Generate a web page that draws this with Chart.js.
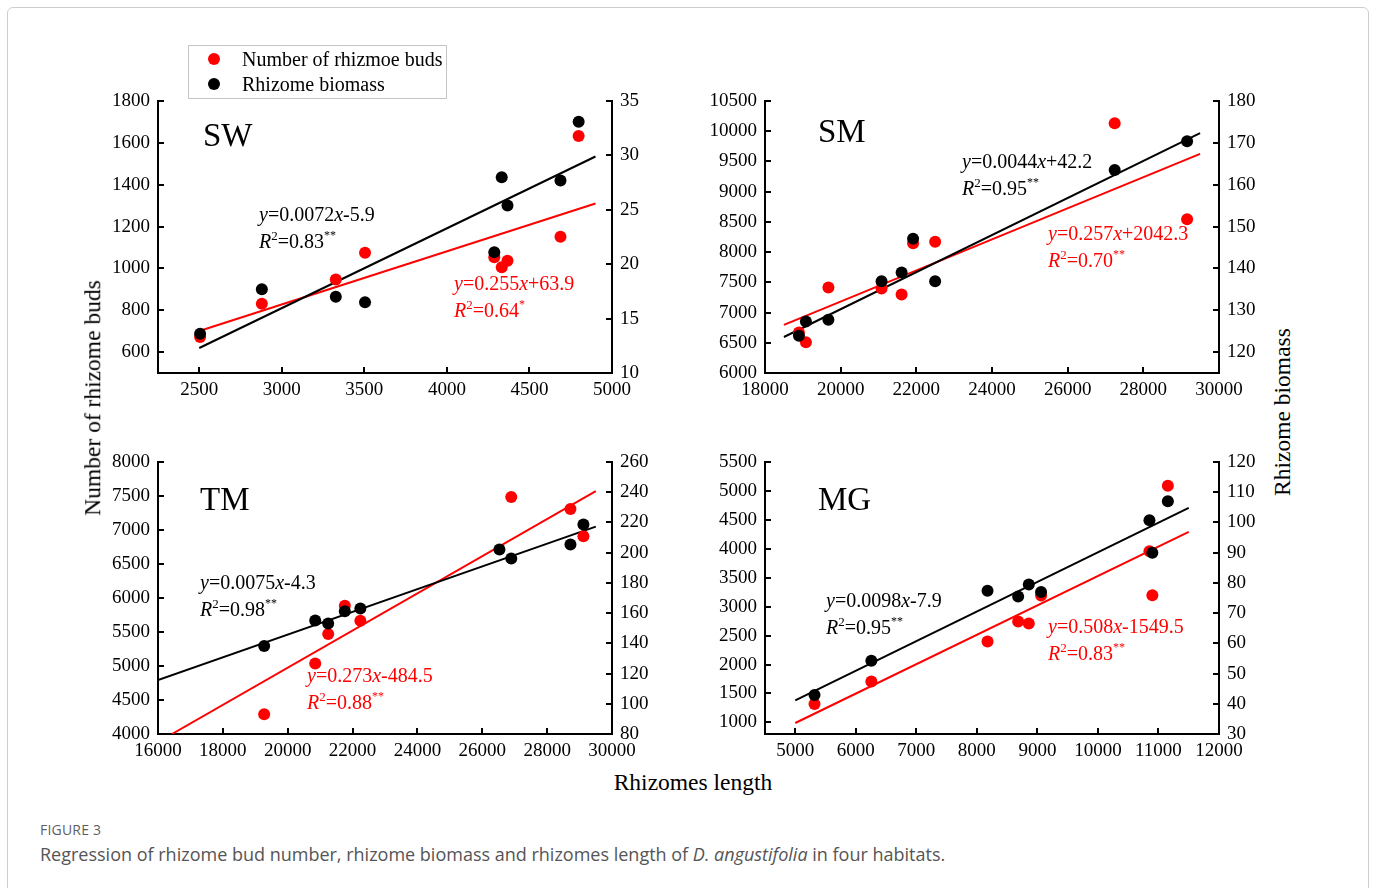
<!DOCTYPE html>
<html>
<head>
<meta charset="utf-8">
<title>Figure 3</title>
<script src="https://cdn.jsdelivr.net/npm/chart.js@4.4.1/dist/chart.umd.min.js"></script>
<style>
  body { margin: 0; background: #fff; width: 1375px; height: 888px; overflow: hidden; position: relative; font-family: "Liberation Serif", "Times New Roman", serif; color: #000; }
  .frame { position: absolute; left: 7px; top: 7px; width: 1360px; height: 920px; border: 1px solid #cdcdcd; border-radius: 6px; }
  canvas { position: absolute; }
  .tag { position: absolute; font-size: 33px; line-height: 1; }
  .eq { position: absolute; font-size: 20px; line-height: 27px; white-space: nowrap; }
  .eq.red { color: #ff0000; }
  .eq sup { font-size: 13px; line-height: 0; vertical-align: 8px; }
  .eq sup.s { font-size: 12px; vertical-align: 9px; }
  .legend { position: absolute; left: 188px; top: 45px; width: 257px; height: 52px; border: 1px solid #c4c4c4; font-size: 20px; }
  .legend .row { position: absolute; left: 0; height: 25px; line-height: 25px; white-space: nowrap; }
  .legend .dot { position: absolute; left: 19px; top: 6px; width: 12px; height: 12px; border-radius: 50%; }
  .legend .txt { position: absolute; left: 53px; }
  .axt { position: absolute; font-size: 23.5px; white-space: nowrap; line-height: 1; }
  .rot { transform: translate(-50%, -50%) rotate(-90deg); }
  .cap1 { position: absolute; left: 40px; top: 820px; font-family: "Open Sans", sans-serif; font-size: 14px; color: #5f5f5f; letter-spacing: 0.2px; }
  .cap2 { position: absolute; left: 40px; top: 842px; font-family: "Open Sans", sans-serif; font-size: 18px; color: #555; white-space: nowrap; }
</style>
</head>
<body>
<div class="frame"></div>

<canvas id="sw" width="567" height="317" style="left:90px;top:86px"></canvas>
<canvas id="sm" width="567" height="317" style="left:697px;top:86px"></canvas>
<canvas id="tm" width="567" height="317" style="left:90px;top:447px"></canvas>
<canvas id="mg" width="567" height="317" style="left:697px;top:447px"></canvas>

<div class="legend">
  <div class="row" style="top:1px"><span class="dot" style="background:#ff0000"></span><span class="txt">Number of rhizmoe buds</span></div>
  <div class="row" style="top:26px"><span class="dot" style="background:#000"></span><span class="txt">Rhizome biomass</span></div>
</div>

<div class="tag" style="left:203px;top:119px">SW</div>
<div class="tag" style="left:818px;top:115px">SM</div>
<div class="tag" style="left:200px;top:483px">TM</div>
<div class="tag" style="left:818px;top:483px">MG</div>

<div class="eq" style="left:259px;top:201px"><i>y</i>=0.0072<i>x</i>-5.9<br><i>R</i><sup>2</sup>=0.83<sup class="s">**</sup></div>
<div class="eq red" style="left:454px;top:270px"><i>y</i>=0.255<i>x</i>+63.9<br><i>R</i><sup>2</sup>=0.64<sup class="s">*</sup></div>
<div class="eq" style="left:962px;top:148px"><i>y</i>=0.0044<i>x</i>+42.2<br><i>R</i><sup>2</sup>=0.95<sup class="s">**</sup></div>
<div class="eq red" style="left:1048px;top:220px"><i>y</i>=0.257<i>x</i>+2042.3<br><i>R</i><sup>2</sup>=0.70<sup class="s">**</sup></div>
<div class="eq" style="left:200px;top:569px"><i>y</i>=0.0075<i>x</i>-4.3<br><i>R</i><sup>2</sup>=0.98<sup class="s">**</sup></div>
<div class="eq red" style="left:307px;top:662px"><i>y</i>=0.273<i>x</i>-484.5<br><i>R</i><sup>2</sup>=0.88<sup class="s">**</sup></div>
<div class="eq" style="left:826px;top:587px"><i>y</i>=0.0098<i>x</i>-7.9<br><i>R</i><sup>2</sup>=0.95<sup class="s">**</sup></div>
<div class="eq red" style="left:1048px;top:613px"><i>y</i>=0.508<i>x</i>-1549.5<br><i>R</i><sup>2</sup>=0.83<sup class="s">**</sup></div>

<div class="axt" style="left:693px;top:783px;transform:translate(-50%,-50%)">Rhizomes length</div>
<div class="axt rot" style="left:93px;top:398px">Number of rhizome buds</div>
<div class="axt rot" style="left:1283px;top:412px">Rhizome biomass</div>

<div class="cap1">FIGURE 3</div>
<div class="cap2">Regression of rhizome bud number, rhizome biomass and rhizomes length of <i>D. angustifolia</i> in four habitats.</div>

<script>
// SW habitat
const swLength  = [2505, 2879, 3327, 3504, 4287, 4332, 4367, 4688, 4798];
const swBuds    = [672, 831, 947, 1075, 1053, 1005, 1037, 1151, 1633];
const swBiomass = [13.6, 17.7, 17.0, 16.5, 21.1, 28.0, 25.4, 27.7, 33.1];
const swBudFitX = [2500, 4900], swBudFitY = [701, 1310];
const swMassFitX = [2500, 4900], swMassFitY = [12.3, 29.9];
const swLengthTicks = [2500, 3000, 3500, 4000, 4500, 5000];
const swBudTicks = [600, 800, 1000, 1200, 1400, 1600, 1800];
const swMassTicks = [10, 15, 20, 25, 30, 35];

// SM habitat
const smLength  = [18897, 19081, 19676, 21081, 21611, 21914, 22497, 27243, 29157];
const smBuds    = [6672, 6507, 7416, 7399, 7300, 8148, 8170, 10131, 8545];
const smBiomass = [123.9, 127.3, 127.7, 136.9, 139.0, 147.1, 136.9, 163.5, 170.4];
const smBudFitX = [18500, 29500], smBudFitY = [6797, 9624];
const smMassFitX = [18500, 29500], smMassFitY = [123.6, 172.3];
const smLengthTicks = [18000, 20000, 22000, 24000, 26000, 28000, 30000];
const smBudTicks = [6000, 6500, 7000, 7500, 8000, 8500, 9000, 9500, 10000, 10500];
const smMassTicks = [120, 130, 140, 150, 160, 170, 180];

// TM habitat
const tmLength  = [19274, 20848, 21248, 21761, 22240, 26529, 26894, 28719, 29119];
const tmBuds    = [4289, 5038, 5469, 5885, 5665, null, 7486, 7310, 6908];
const tmBiomass = [138.2, 155.1, 153.1, 161.3, 163.1, 202.1, 196.1, 205.4, 218.6];
const tmBudFitX = [16430, 29500], tmBudFitY = [4000, 7570];
const tmMassFitX = [16000, 29500], tmMassFitY = [115.7, 217.2];
const tmLengthTicks = [16000, 18000, 20000, 22000, 24000, 26000, 28000, 30000];
const tmBudTicks = [4000, 4500, 5000, 5500, 6000, 6500, 7000, 7500, 8000];
const tmMassTicks = [80, 100, 120, 140, 160, 180, 200, 220, 240, 260];

// MG habitat
const mgLength  = [5318, 6257, 8176, 8682, 8858, 9061, 10851, 10899, 11155];
const mgBuds    = [1317, 1708, 2399, 2744, 2709, 3193, 3958, 3199, 5091];
const mgBiomass = [42.9, 54.2, 77.4, 75.5, 79.5, 77.0, 100.7, 90.0, 107.0];
const mgBudFitX = [5000, 11500], mgBudFitY = [990, 4292];
const mgMassFitX = [5000, 11500], mgMassFitY = [41.1, 104.8];
const mgLengthTicks = [5000, 6000, 7000, 8000, 9000, 10000, 11000, 12000];
const mgBudTicks = [1000, 1500, 2000, 2500, 3000, 3500, 4000, 4500, 5000, 5500];
const mgMassTicks = [30, 40, 50, 60, 70, 80, 90, 100, 110, 120];

const RED = '#ff0000';
const BLACK = '#000000';
const tickFont = { family: '"Liberation Serif", "Times New Roman", serif', size: 19 };

// ticks point inward, drawn from the scales
const inwardTicks = {
  id: 'inwardTicks',
  afterDraw(chart) {
    const ctx = chart.ctx;
    ctx.save();
    ctx.strokeStyle = BLACK;
    ctx.lineWidth = 2;
    Object.values(chart.scales).forEach(s => {
      s.ticks.forEach(t => {
        const p = Math.round(s.getPixelForValue(t.value));
        ctx.beginPath();
        if (s.axis === 'x') { ctx.moveTo(p, s.top); ctx.lineTo(p, s.top - 6); }
        else if (s.position === 'left') { ctx.moveTo(s.right, p); ctx.lineTo(s.right + 6, p); }
        else { ctx.moveTo(s.left, p); ctx.lineTo(s.left - 6, p); }
        ctx.stroke();
      });
    });
    ctx.restore();
  }
};

function pairs(xs, ys) {
  return xs.map((x, i) => ({ x: x, y: ys[i] }));
}

function axis(pos, range, tickVals, size) {
  return {
    type: 'linear',
    position: pos,
    min: range[0],
    max: range[1],
    grid: { display: false, drawTicks: false },
    border: { display: true, color: BLACK, width: 2 },
    ticks: {
      font: tickFont,
      color: BLACK,
      padding: pos === 'bottom' ? 6 : 8,
      autoSkip: false,
      maxRotation: 0,
      callback: v => String(v)
    },
    afterBuildTicks: a => { a.ticks = tickVals.map(v => ({ value: v })); },
    afterFit: a => {
      if (pos === 'bottom') a.height = size; else a.width = size;
      a.paddingLeft = 0; a.paddingRight = 0; a.paddingTop = 0; a.paddingBottom = 0;
    }
  };
}

function panel(id, xRange, budRange, massRange, p) {
  new Chart(document.getElementById(id), {
    type: 'scatter',
    data: {
      datasets: [
        { data: pairs(p.length, p.biomass), yAxisID: 'y2', backgroundColor: BLACK, borderWidth: 0, pointRadius: 6, pointHoverRadius: 6 },
        { data: pairs(p.length, p.buds), yAxisID: 'y', backgroundColor: RED, borderWidth: 0, pointRadius: 6, pointHoverRadius: 6 },
        { data: pairs(p.massFitX, p.massFitY), yAxisID: 'y2', showLine: true, borderColor: BLACK, borderWidth: 2, pointRadius: 0 },
        { data: pairs(p.budFitX, p.budFitY), yAxisID: 'y', showLine: true, borderColor: RED, borderWidth: 2, pointRadius: 0 }
      ]
    },
    options: {
      responsive: false,
      animation: false,
      devicePixelRatio: 1,
      events: [],
      layout: { padding: { top: 15, left: 0, right: 0, bottom: 0 } },
      plugins: { legend: { display: false }, tooltip: { enabled: false } },
      scales: {
        x: axis('bottom', xRange, p.xTicks, 30),
        y: axis('left', budRange, p.budTicks, 68),
        y2: axis('right', massRange, p.massTicks, 45)
      }
    },
    plugins: [inwardTicks]
  });
}

panel('sw', [2250, 5000], [500, 1800], [10, 35], {
  length: swLength, buds: swBuds, biomass: swBiomass,
  budFitX: swBudFitX, budFitY: swBudFitY, massFitX: swMassFitX, massFitY: swMassFitY,
  xTicks: swLengthTicks, budTicks: swBudTicks, massTicks: swMassTicks
});
panel('sm', [18000, 30000], [6000, 10500], [115, 180], {
  length: smLength, buds: smBuds, biomass: smBiomass,
  budFitX: smBudFitX, budFitY: smBudFitY, massFitX: smMassFitX, massFitY: smMassFitY,
  xTicks: smLengthTicks, budTicks: smBudTicks, massTicks: smMassTicks
});
panel('tm', [16000, 30000], [4000, 8000], [80, 260], {
  length: tmLength, buds: tmBuds, biomass: tmBiomass,
  budFitX: tmBudFitX, budFitY: tmBudFitY, massFitX: tmMassFitX, massFitY: tmMassFitY,
  xTicks: tmLengthTicks, budTicks: tmBudTicks, massTicks: tmMassTicks
});
panel('mg', [4500, 12000], [800, 5500], [30, 120], {
  length: mgLength, buds: mgBuds, biomass: mgBiomass,
  budFitX: mgBudFitX, budFitY: mgBudFitY, massFitX: mgMassFitX, massFitY: mgMassFitY,
  xTicks: mgLengthTicks, budTicks: mgBudTicks, massTicks: mgMassTicks
});
</script>
</body>
</html>
